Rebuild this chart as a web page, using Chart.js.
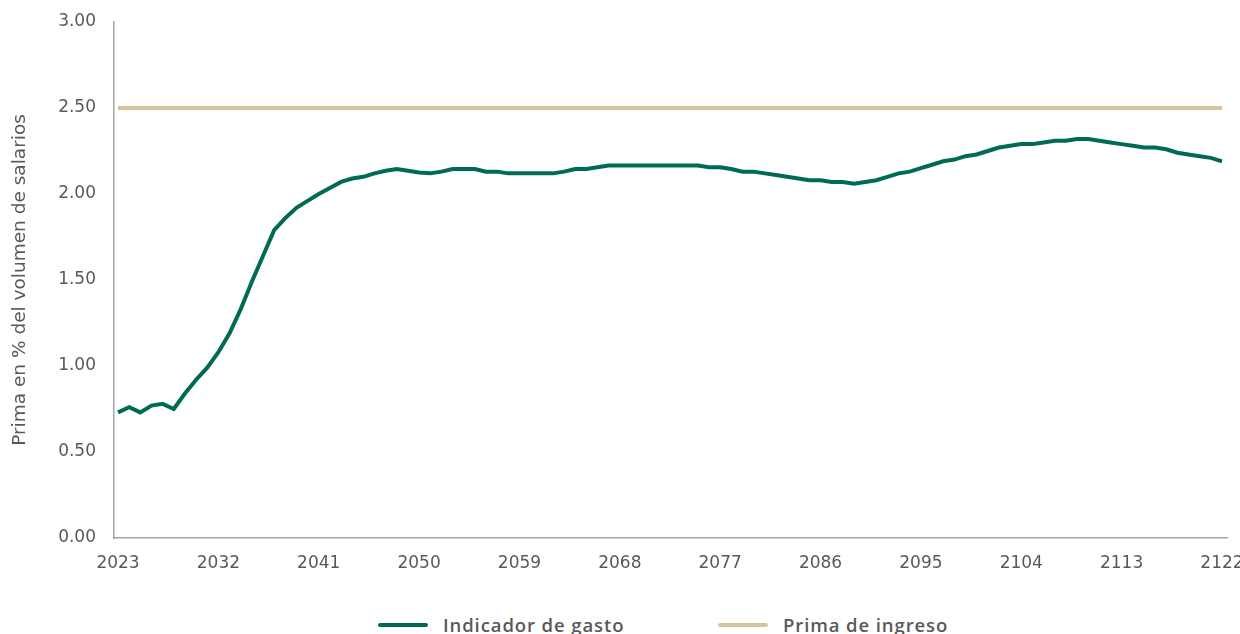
<!DOCTYPE html>
<html>
<head>
<meta charset="utf-8">
<script src="https://cdn.jsdelivr.net/npm/chart.js@4.4.1/dist/chart.umd.min.js"></script>
<style>
  body { margin: 0; width: 1240px; height: 634px; overflow: hidden; background: #fff; font-family: "Open Sans", sans-serif; }
  #wrap { position: absolute; left: 0; top: 0; width: 1240px; height: 600px; }
  .legend { position: absolute; top: 613px; left: 0; width: 1240px; height: 24px; }
  .item { position: absolute; top: 0; font-size: 18.5px; font-weight: 600; color: #595959; line-height: 24px; letter-spacing: 0.9px; white-space: nowrap; }
  .swatch { position: absolute; top: 10px; width: 50px; height: 4px; border-radius: 2px; }
</style>
</head>
<body>
<div id="wrap"><canvas id="myChart"></canvas></div>
<div class="legend">
  <div class="swatch" style="left:378px;background:#006b54"></div>
  <div class="item" style="left:443px">Indicador de gasto</div>
  <div class="swatch" style="left:718px;background:#d8c39b"></div>
  <div class="item" style="left:783px">Prima de ingreso</div>
</div>
<script>
const years = [
  2023, 2024, 2025, 2026, 2027, 2028, 2029, 2030, 2031, 2032,
  2033, 2034, 2035, 2036, 2037, 2038, 2039, 2040, 2041, 2042,
  2043, 2044, 2045, 2046, 2047, 2048, 2049, 2050, 2051, 2052,
  2053, 2054, 2055, 2056, 2057, 2058, 2059, 2060, 2061, 2062,
  2063, 2064, 2065, 2066, 2067, 2068, 2069, 2070, 2071, 2072,
  2073, 2074, 2075, 2076, 2077, 2078, 2079, 2080, 2081, 2082,
  2083, 2084, 2085, 2086, 2087, 2088, 2089, 2090, 2091, 2092,
  2093, 2094, 2095, 2096, 2097, 2098, 2099, 2100, 2101, 2102,
  2103, 2104, 2105, 2106, 2107, 2108, 2109, 2110, 2111, 2112,
  2113, 2114, 2115, 2116, 2117, 2118, 2119, 2120, 2121, 2122
];

// Indicador de gasto (% del volumen de salarios)
const gasto = [
  0.73, 0.76, 0.73, 0.77, 0.78, 0.75, 0.84, 0.92, 0.99, 1.08,
  1.19, 1.33, 1.49, 1.64, 1.79, 1.86, 1.92, 1.96, 2.00, 2.035,
  2.07, 2.09, 2.10, 2.12, 2.135, 2.145, 2.135, 2.125, 2.12, 2.13,
  2.145, 2.145, 2.145, 2.13, 2.13, 2.12, 2.12, 2.12, 2.12, 2.12,
  2.13, 2.145, 2.145, 2.155, 2.165, 2.165, 2.165, 2.165, 2.165, 2.165,
  2.165, 2.165, 2.165, 2.155, 2.155, 2.145, 2.13, 2.13, 2.12, 2.11,
  2.10, 2.09, 2.08, 2.08, 2.07, 2.07, 2.06, 2.07, 2.08, 2.10,
  2.12, 2.13, 2.15, 2.17, 2.19, 2.20, 2.22, 2.23, 2.25, 2.27,
  2.28, 2.29, 2.29, 2.30, 2.31, 2.31, 2.32, 2.32, 2.31, 2.30,
  2.29, 2.28, 2.27, 2.27, 2.26, 2.24, 2.23, 2.22, 2.21, 2.19
];

// Prima de ingreso (constante)
const ingresoYears = [2023, 2122];
const ingreso = [2.50, 2.50];

const xTicks = [2023, 2032, 2041, 2050, 2059, 2068, 2077, 2086, 2095, 2104, 2113, 2122];
const yTicks = [0, 0.5, 1, 1.5, 2, 2.5, 3];

const tickFont = { family: 'DejaVu Sans', size: 17 };
const grey = '#595959';

const data = {
    datasets: [{
        label: 'Indicador de gasto',
        data: years.map((y, i) => ({ x: y, y: gasto[i] })),
        borderColor: '#006b54',
        backgroundColor: '#006b54',
        borderWidth: 4,
        pointRadius: 0,
        tension: 0
    }, {
        label: 'Prima de ingreso',
        data: ingresoYears.map((y, i) => ({ x: y, y: ingreso[i] })),
        borderColor: '#d8c39b',
        backgroundColor: '#d8c39b',
        borderWidth: 4,
        pointRadius: 0
    }]
};

const config = {
    type: 'line',
    data,
    options: {
        responsive: true,
        maintainAspectRatio: false,
        animation: false,
        devicePixelRatio: 1,
        layout: { padding: { top: 22, right: 13, left: 0, bottom: 0 } },
        plugins: {
            legend: { display: false },
            tooltip: { enabled: false }
        },
        scales: {
            x: {
                type: 'linear',
                min: 2022.64,
                max: 2122.45,
                afterBuildTicks: (scale) => { scale.ticks = xTicks.map(v => ({ value: v })); },
                afterFit: (scale) => { scale.height = 62; scale.paddingLeft = 0; scale.paddingRight = 0; },
                grid: { display: false, drawTicks: false },
                border: { display: true, color: '#a6a6a6', width: 1.5 },
                ticks: {
                    autoSkip: false,
                    maxRotation: 0,
                    padding: 15,
                    color: grey,
                    font: tickFont,
                    callback: (v) => String(v)
                }
            },
            y: {
                min: 0,
                max: 3,
                afterBuildTicks: (scale) => { scale.ticks = yTicks.map(v => ({ value: v })); },
                afterFit: (scale) => { scale.width = 114; scale.paddingTop = 0; scale.paddingBottom = 0; },
                grid: { display: false, drawTicks: false },
                border: { display: true, color: '#a6a6a6', width: 1.5 },
                ticks: {
                    padding: 18,
                    color: grey,
                    font: tickFont,
                    callback: (v) => Number(v).toFixed(2)
                },
                title: {
                    display: true,
                    text: 'Prima en % del volumen de salarios',
                    color: grey,
                    font: { family: 'DejaVu Sans', size: 18.5 },
                    padding: { top: 9, bottom: 0 }
                }
            }
        }
    }
};

new Chart(document.getElementById('myChart'), config);
</script>
</body>
</html>
